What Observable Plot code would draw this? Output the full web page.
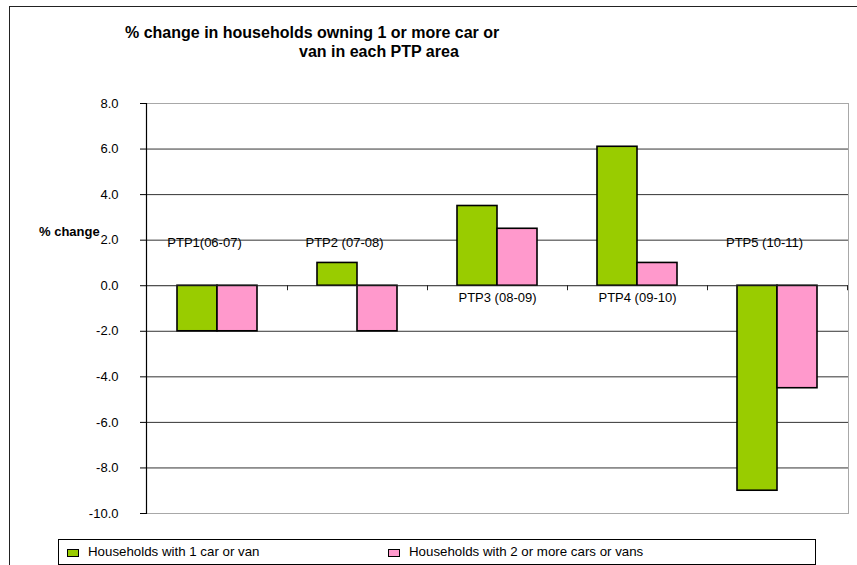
<!DOCTYPE html>
<html>
<head>
<meta charset="utf-8">
<script src="https://cdn.jsdelivr.net/npm/d3@7"></script>
<script src="https://cdn.jsdelivr.net/npm/@observablehq/plot@0.6"></script>
<style>
  html, body { margin: 0; padding: 0; background: #fff; overflow: hidden; }
  #wrap { position: relative; width: 857px; height: 565px; font-family: "Liberation Sans", Arial, sans-serif; overflow: hidden; }
  #outer { position: absolute; left: 9px; top: 6px; width: 900px; height: 600px; border: 1.5px solid #222; box-sizing: border-box; }
  .title { position: absolute; font-weight: bold; font-size: 16px; line-height: 18px; white-space: nowrap; color: #000; }
  #ylabel { position: absolute; left: 39px; top: 224px; font-weight: bold; font-size: 13px; white-space: nowrap; }
  #legend { position: absolute; left: 58px; top: 539px; width: 758px; height: 26px; border: 1px solid #000; box-sizing: border-box; font-size: 13.3px; background: #fff; }
  .item { position: absolute; top: 4px; white-space: nowrap; }
  .sw { position: absolute; width: 10px; height: 6px; border: 1.5px solid #000; top: 5px; }
  .lt { position: absolute; top: 0px; }
  #chart { position: absolute; left: 0; top: 0; }
</style>
</head>
<body>
<div id="wrap">
  <div id="outer"></div>
  <div id="chart"></div>
  <div class="title" id="t1" style="left:125px; top:24px;">% change in households owning 1 or more car or</div>
  <div class="title" id="t2" style="left:299px; top:43px;">van in each PTP area</div>
  <div id="ylabel">% change</div>
  <div id="legend"></div>
</div>
<script>
const categories = ["PTP1", "PTP2", "PTP3", "PTP4", "PTP5"];
const categoryLabels = ["PTP1(06-07)", "PTP2 (07-08)", "PTP3 (08-09)", "PTP4 (09-10)", "PTP5 (10-11)"];
const oneCar = [-2.0, 1.0, 3.5, 6.1, -9.0];
const twoPlusCars = [-2.0, -2.0, 2.5, 1.0, -4.5];
const seriesNames = ["Households with 1 car or van", "Households with 2 or more cars or vans"];
const seriesColors = ["#99CC00", "#FF99CC"];
const yTicks = [-10, -8, -6, -4, -2, 0, 2, 4, 6, 8];

const rows = categories.map((c, i) => ({
  cat: c, label: categoryLabels[i], one: oneCar[i], two: twoPlusCars[i],
  below: Math.min(oneCar[i], twoPlusCars[i]) >= 0
}));

const chart = Plot.plot({
  width: 857,
  height: 565,
  marginLeft: 146,
  marginRight: 9,
  marginTop: 103,
  marginBottom: 52,
  style: { fontFamily: "'Liberation Sans', Arial, sans-serif", fontSize: "13px", background: "transparent", color: "#000" },
  x: { type: "band", domain: categories, padding: 0, axis: null },
  y: { domain: [-10, 8], axis: null },
  marks: [
    Plot.frame({ stroke: "#a8a8a8" }),
    Plot.ruleY(yTicks.filter(t => t > -10 && t < 8 && t !== 0), { stroke: "#333", strokeWidth: 1 }),
    Plot.barY(rows, { x: "cat", y: "one", fill: seriesColors[0], stroke: "#000", strokeWidth: 1.6, insetLeft: 30, insetRight: 70 }),
    Plot.barY(rows, { x: "cat", y: "two", fill: seriesColors[1], stroke: "#000", strokeWidth: 1.6, insetLeft: 70, insetRight: 30 }),
    Plot.ruleY([0], { stroke: "#222", strokeWidth: 1 }),
    Plot.ruleX(categories, { x: d => d, y1: 0, y2: 0, dx: 70, insetBottom: -5, stroke: "#222" }),
    Plot.frame({ anchor: "left", stroke: "#000", strokeWidth: 1.2 }),
    Plot.axisY({ ticks: yTicks, tickFormat: d => d.toFixed(1), tickSize: 6, tickPadding: 22, fontSize: 13, stroke: "#000" }),
    Plot.text(rows.filter(d => !d.below), { x: "cat", y: 0, text: "label", dy: -43, dx: -13, fontSize: 13, fill: "#000" }),
    Plot.text(rows.filter(d => d.below), { x: "cat", y: 0, text: "label", dy: 12, fontSize: 13, fill: "#000" })
  ]
});
document.getElementById("chart").appendChild(chart);

const legend = document.getElementById("legend");
const legendX = [8, 329];
seriesNames.forEach((name, i) => {
  const item = document.createElement("div");
  item.className = "item";
  item.style.left = legendX[i] + "px";
  item.innerHTML = `<div class="sw" style="left:0; background:${seriesColors[i]}"></div><div class="lt" style="left:21px">${name}</div>`;
  legend.appendChild(item);
});
</script>
</body>
</html>
